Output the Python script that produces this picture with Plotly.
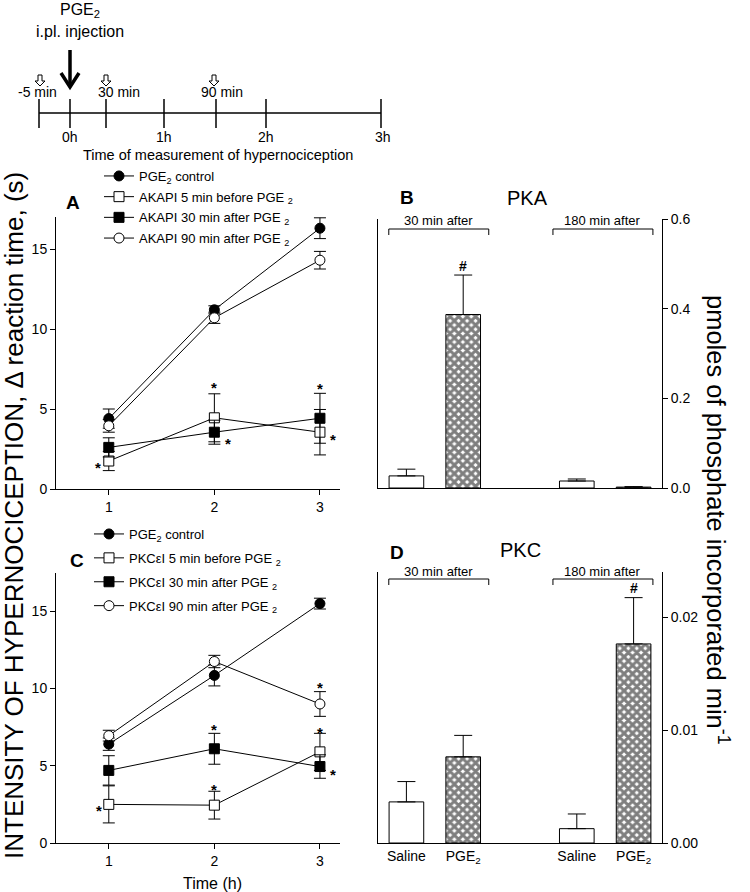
import plotly.graph_objects as go

W, H = 750, 892
FONT = "Liberation Sans, Arial, sans-serif"

# ---------------- data ----------------
hours = [1, 2, 3]

# Panel A (AKAPI)
a_pge2 = [4.4, 11.2, 16.3]
a_pge2_err = [0.6, 0.25, 0.65]
a_akapi5 = [1.75, 4.45, 3.55]
a_akapi5_err = [0.6, 1.5, 1.42]
a_akapi30 = [2.6, 3.55, 4.42]
a_akapi30_err = [0.6, 0.75, 1.56]
a_akapi90 = [3.95, 10.7, 14.3]
a_akapi90_err = [0.4, 0.35, 0.55]
a_names = ["PGE<sub>2</sub> control", "AKAPI 5 min before PGE <sub>2</sub>",
           "AKAPI 30 min after PGE <sub>2</sub>", "AKAPI 90 min after PGE <sub>2</sub>"]
a_star_x = [0.9, 2, 2.13, 3, 3.12]
a_star_y = [1.6, 6.6, 3.1, 6.56, 3.37]

# Panel C (PKCeI)
c_pge2 = [6.4, 10.85, 15.5]
c_pge2_err = [0.4, 0.68, 0.35]
c_pkc5 = [2.5, 2.45, 5.9]
c_pkc5_err = [1.2, 0.9, 1.2]
c_pkc30 = [4.7, 6.1, 4.95]
c_pkc30_err = [0.95, 1.0, 0.76]
c_pkc90 = [6.95, 11.75, 9.0]
c_pkc90_err = [0.35, 0.4, 0.8]
c_names = ["PGE<sub>2</sub> control", "PKCεI 5 min before PGE <sub>2</sub>",
           "PKCεI 30 min after PGE <sub>2</sub>", "PKCεI 90 min after PGE <sub>2</sub>"]
c_star_x = [0.91, 2, 2, 3, 3, 3.12]
c_star_y = [2.38, 7.6, 3.7, 10.3, 7.43, 4.72]

# Panels B & D (kinase activity)
bar_pos_saline = [0, 3]
bar_pos_pge2 = [1, 4]
bar_tickvals = [0, 1, 3, 4]
bar_ticktext = ["Saline", "PGE<sub>2</sub>", "Saline", "PGE<sub>2</sub>"]
group_labels = ["30 min after", "180 min after"]
group_centers = [0.57, 3.46]

pka_saline = [0.027, 0.0156]
pka_saline_err = [0.015, 0.0045]
pka_pge2 = [0.387, 0.002]
pka_pge2_err = [0.088, 0.001]

pkc_saline = [0.00364, 0.00127]
pkc_saline_err = [0.0018, 0.0013]
pkc_pge2 = [0.00763, 0.01763]
pkc_pge2_err = [0.0019, 0.0041]

hash_B = (1, 0.495)
hash_D = (4, 0.0226)

# timeline schematic
timeline_top_labels = ["-5 min", "30 min", "90 min"]
timeline_hour_labels = ["0h", "1h", "2h", "3h"]

# ---------------- helpers ----------------
def px(x):
    return x / W


def py(y):
    return 1 - y / H


annotations = []
shapes = []


def ann(x, y, text, size, xref="paper", yref="paper", **kw):
    d = dict(x=x, y=y, xref=xref, yref=yref, text=text, showarrow=False,
             xanchor="center", yanchor="middle", font=dict(size=size, color="black", family=FONT))
    d.update(kw)
    annotations.append(d)


fig = go.Figure()

axis_common = dict(showline=True, linecolor="black", linewidth=1, ticks="outside",
                   ticklen=5, tickwidth=1, tickcolor="black", showgrid=False,
                   zeroline=False, tickfont=dict(size=14, color="black", family=FONT))


def add_series(xa, ya, vals, errs, symbol, fill, name, legend):
    fig.add_trace(go.Scatter(
        x=hours, y=vals, mode="lines+markers", name=name, legend=legend,
        legendgroup=legend + name,
        line=dict(color="black", width=1),
        marker=dict(symbol=symbol, size=10, color=fill, line=dict(color="black", width=1)),
        error_y=dict(type="data", array=errs, symmetric=True, color="black", thickness=1, width=6),
        xaxis=xa, yaxis=ya, cliponaxis=False))


add_series("x", "y", a_pge2, a_pge2_err, "circle", "black", a_names[0], "legend")
add_series("x", "y", a_akapi5, a_akapi5_err, "square", "white", a_names[1], "legend")
add_series("x", "y", a_akapi30, a_akapi30_err, "square", "black", a_names[2], "legend")
add_series("x", "y", a_akapi90, a_akapi90_err, "circle", "white", a_names[3], "legend")

add_series("x3", "y3", c_pge2, c_pge2_err, "circle", "black", c_names[0], "legend2")
add_series("x3", "y3", c_pkc5, c_pkc5_err, "square", "white", c_names[1], "legend2")
add_series("x3", "y3", c_pkc30, c_pkc30_err, "square", "black", c_names[2], "legend2")
add_series("x3", "y3", c_pkc90, c_pkc90_err, "circle", "white", c_names[3], "legend2")


def add_bars(xa, ya, sal, sal_err, pge, pge_err):
    fig.add_trace(go.Bar(
        x=bar_pos_saline, y=sal, width=0.61, showlegend=False,
        marker=dict(color="white", line=dict(color="black", width=1)),
        error_y=dict(type="data", array=sal_err, arrayminus=[0, 0], symmetric=False,
                     color="black", thickness=1, width=9),
        xaxis=xa, yaxis=ya))
    fig.add_trace(go.Bar(
        x=bar_pos_pge2, y=pge, width=0.61, showlegend=False,
        marker=dict(color="white", line=dict(color="black", width=1),
                    pattern=dict(shape="x", fgcolor="black", bgcolor="white", size=6, solidity=0.75)),
        error_y=dict(type="data", array=pge_err, arrayminus=[0, 0], symmetric=False,
                     color="black", thickness=1, width=9),
        xaxis=xa, yaxis=ya))


add_bars("x2", "y2", pka_saline, pka_saline_err, pka_pge2, pka_pge2_err)
add_bars("x4", "y4", pkc_saline, pkc_saline_err, pkc_pge2, pkc_pge2_err)

# ---------------- layout / axes ----------------
XL = [px(56), px(340)]
XR = [px(378), px(662)]
YA = [py(489), py(217)]
YB = [py(488), py(219)]
YC = [py(843), py(572.7)]
YD = [py(843), py(572)]

legend_common = dict(xanchor="left", yanchor="top", itemwidth=30,
                     font=dict(size=13, family=FONT, color="black"),
                     bgcolor="rgba(0,0,0,0)", traceorder="grouped")

fig.update_layout(
    width=W, height=H, margin=dict(l=0, r=0, t=0, b=0, autoexpand=False),
    paper_bgcolor="white", plot_bgcolor="white", barmode="overlay",
    font=dict(family=FONT, color="black", size=14),
    xaxis=dict(axis_common, domain=XL, range=[0.5, 3.19], tickvals=hours, anchor="y"),
    yaxis=dict(axis_common, domain=YA, range=[0, 17], tickvals=[0, 5, 10, 15], anchor="x"),
    xaxis3=dict(axis_common, domain=XL, range=[0.5, 3.19], tickvals=hours, anchor="y3"),
    yaxis3=dict(axis_common, domain=YC, range=[0, 17.5], tickvals=[0, 5, 10, 15], anchor="x3"),
    xaxis2=dict(axis_common, domain=XR, range=[-0.5, 4.5], ticks="", showticklabels=False, anchor="y2"),
    yaxis2=dict(axis_common, domain=YB, range=[0, 0.6], side="right", mirror=True,
                tickvals=[0, 0.2, 0.4, 0.6], ticktext=["0.0", "0.2", "0.4", "0.6"], anchor="x2"),
    xaxis4=dict(axis_common, domain=XR, range=[-0.5, 4.5], ticks="", tickvals=bar_tickvals,
                ticktext=bar_ticktext, anchor="y4"),
    yaxis4=dict(axis_common, domain=YD, range=[0, 0.024], side="right", mirror=True,
                tickvals=[0, 0.01, 0.02], ticktext=["0.00", "0.01", "0.02"], anchor="x4"),
    legend=dict(legend_common, x=px(99), y=py(161), tracegroupgap=0.8),
    legend2=dict(legend_common, x=px(89), y=py(519), tracegroupgap=4),
)

# stars
for xs, ys, xa, ya in [(a_star_x, a_star_y, "x", "y"), (c_star_x, c_star_y, "x3", "y3")]:
    for sx, sy in zip(xs, ys):
        ann(sx, sy, "<b>*</b>", 15, xref=xa, yref=ya, yshift=-4)

# hashes
for (hx, hy), xa, ya in [(hash_B, "x2", "y2"), (hash_D, "x4", "y4")]:
    ann(hx, hy, "<b>#</b>", 14, xref=xa, yref=ya)

# group brackets
for xa, y_line, y_text in [("x2", 229, 220), ("x4", 579, 571)]:
    for lbl, cx in zip(group_labels, group_centers):
        x0, x1 = cx - 0.88, cx + 0.88
        shapes.append(dict(type="path", xref=xa, yref="paper",
                           path=f"M {x0} {py(y_line + 6)} L {x0} {py(y_line)} L {x1} {py(y_line)} L {x1} {py(y_line + 6)}",
                           line=dict(color="black", width=1)))
        ann(cx, py(y_text), lbl, 13, xref=xa)

# panel letters and titles
for txt, x, y, sz, bold in [("A", 73, 203, 19, True), ("B", 407, 198, 19, True),
                             ("C", 77, 560, 19, True), ("D", 397, 552, 19, True),
                             ("PKA", 527, 198, 20, False), ("PKC", 520, 550, 20, False)]:
    ann(px(x), py(y), f"<b>{txt}</b>" if bold else txt, sz)

# axis titles
ann(px(14), py(516), "INTENSITY OF HYPERNOCICEPTION, Δ reaction time, (s)", 26, textangle=-90)
ann(px(718), py(520), "pmoles of phosphate incorporated min<sup>-1</sup>", 25.5, textangle=90)
ann(px(213), py(883), "Time (h)", 16)

# ---------------- timeline schematic ----------------
TL_Y = 113
tick_px = [39, 70, 106, 164, 216, 266, 381]
shapes.append(dict(type="line", xref="paper", yref="paper", x0=px(39), x1=px(381),
                   y0=py(TL_Y), y1=py(TL_Y), line=dict(color="black", width=1.5)))
for tx in tick_px:
    shapes.append(dict(type="line", xref="paper", yref="paper", x0=px(tx), x1=px(tx),
                       y0=py(TL_Y - 14), y1=py(TL_Y + 15), line=dict(color="black", width=1.5)))
for lbl, cx in zip(timeline_top_labels, [37, 119, 222]):
    ann(px(cx), py(92), lbl, 14)
for lbl, cx in zip(timeline_hour_labels, [70, 164, 266, 383]):
    ann(px(cx), py(137), lbl, 14)
ann(px(218), py(155), "Time of measurement of hypernociception", 14.5)
ann(px(80), py(11), "PGE<sub>2</sub>", 16)
ann(px(80), py(32), "i.pl. injection", 16)

# open (outline) arrows
for ax in [40, 106, 214]:
    top, mid, bot = 75, 81, 86
    pts = [(ax - 2, top), (ax + 2, top), (ax + 2, mid), (ax + 5, mid), (ax, bot),
           (ax - 5, mid), (ax - 2, mid)]
    path = "M " + " L ".join(f"{px(x)} {py(y)}" for x, y in pts) + " Z"
    shapes.append(dict(type="path", xref="paper", yref="paper", path=path,
                       line=dict(color="black", width=1), fillcolor="white"))

# big injection arrow
shapes.append(dict(type="line", xref="paper", yref="paper", x0=px(70), x1=px(70),
                   y0=py(50), y1=py(87), line=dict(color="black", width=3.5)))
shapes.append(dict(type="path", xref="paper", yref="paper",
                   path=f"M {px(61)} {py(73)} L {px(70)} {py(87)} L {px(79)} {py(73)}",
                   line=dict(color="black", width=3.5)))

fig.update_layout(annotations=annotations, shapes=shapes)

fig.write_html("out.html", config={"displayModeBar": False},
               post_script="document.body.style.margin='0px';document.body.style.overflow='hidden';")
